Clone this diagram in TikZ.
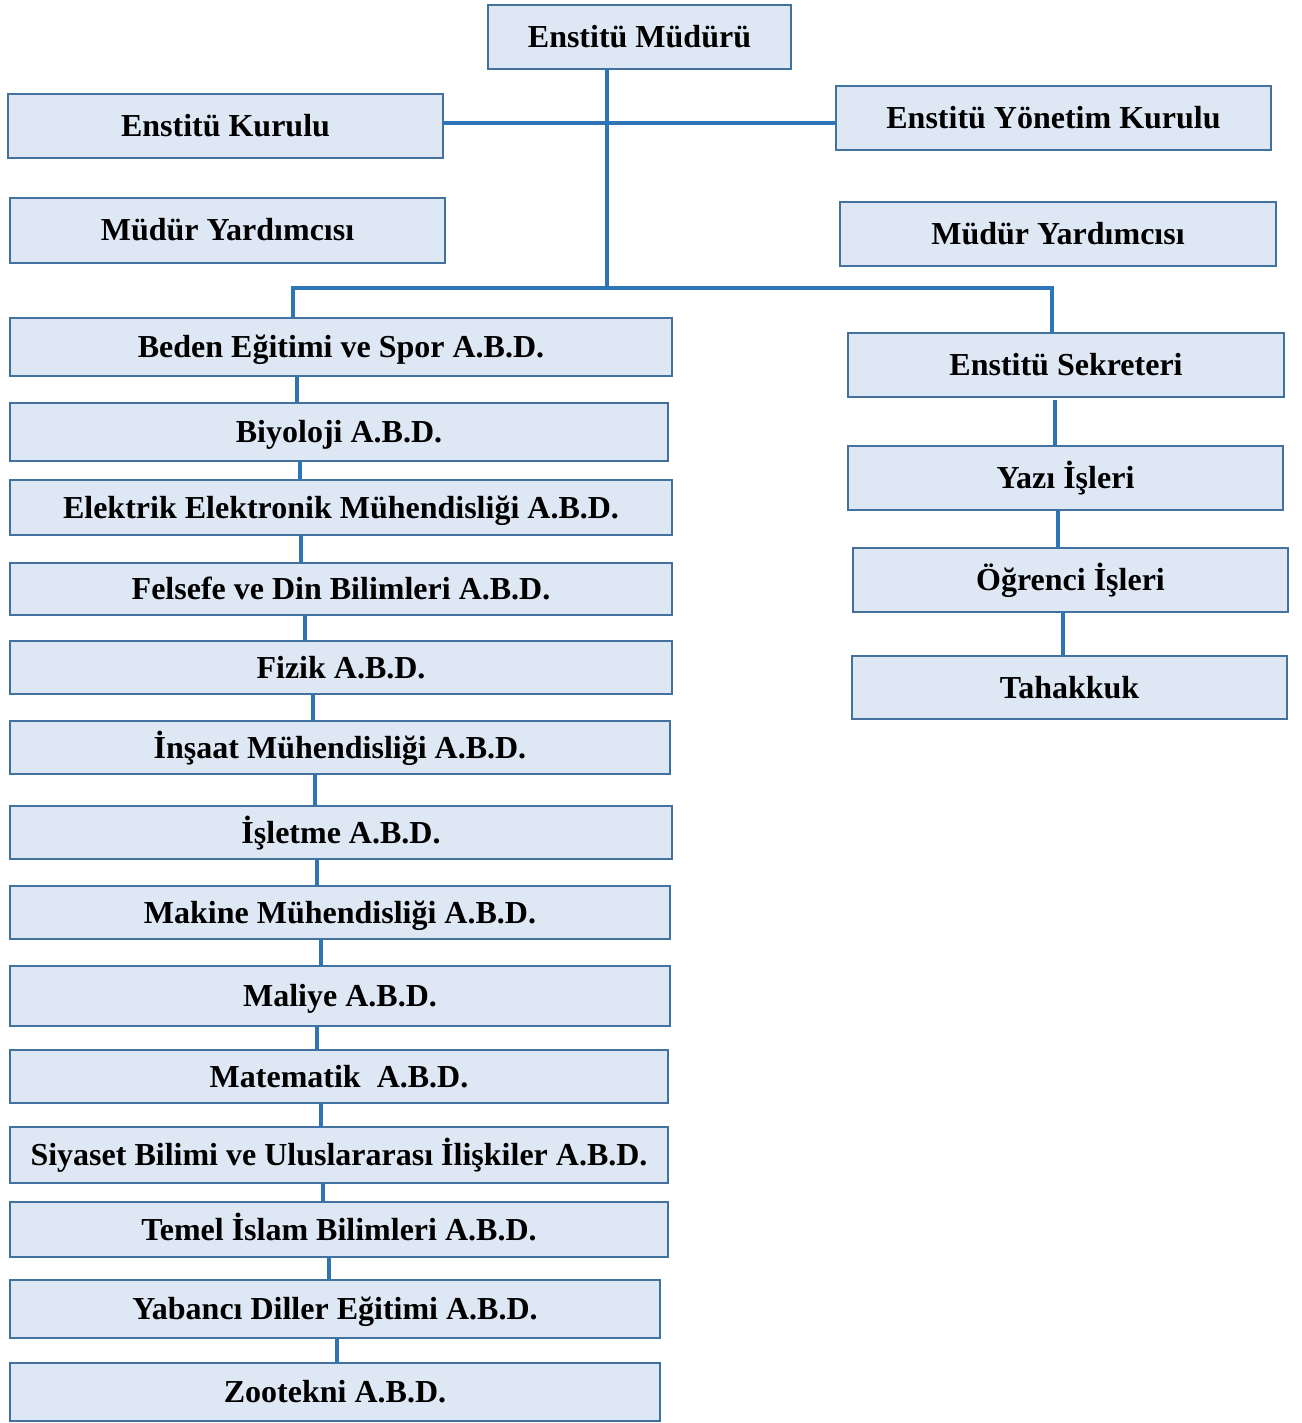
\documentclass[tikz,border=0pt]{standalone}
\usepackage{fontspec}
\setmainfont{Liberation Serif}
\definecolor{boxfill}{HTML}{DEE8F4}
\definecolor{boxline}{HTML}{41719C}
\definecolor{connc}{HTML}{2E75B6}
\begin{document}
\begin{tikzpicture}[x=1pt,y=-1pt,
  box/.style={draw=boxline, line width=2pt, fill=boxfill, inner sep=0pt, outer sep=0pt,
    font=\fontsize{32}{34}\selectfont\bfseries, text height=21pt, text depth=0pt},
  conn/.style={draw=connc, line width=4.5pt}]
\useasboundingbox (0,0) rectangle (1301,1423);
\newcommand{\bx}[6]{\node[box, minimum width={#4-#2}, minimum height={#5-#3}] (#1) at ({(#2+#4)/2},{(#3+#5)/2}) {#6};}
\bx{m}{488}{5}{791}{69}{Enstitü Müdürü}
\bx{ek}{8}{94}{443}{158}{Enstitü Kurulu}
\bx{eyk}{836}{86}{1271}{150}{Enstitü Yönetim Kurulu}
\bx{my1}{10}{198}{445}{263}{Müdür Yardımcısı}
\bx{my2}{840}{202}{1276}{266}{Müdür Yardımcısı}
\bx{b1}{10}{318}{672}{376}{Beden Eğitimi ve Spor A.B.D.}
\bx{b2}{10}{403}{668}{461}{Biyoloji A.B.D.}
\bx{b3}{10}{480}{672}{535}{Elektrik Elektronik Mühendisliği A.B.D.}
\bx{b4}{10}{563}{672}{615}{Felsefe ve Din Bilimleri A.B.D.}
\bx{b5}{10}{641}{672}{694}{Fizik A.B.D.}
\bx{b6}{10}{721}{670}{774}{İnşaat Mühendisliği A.B.D.}
\bx{b7}{10}{806}{672}{859}{İşletme A.B.D.}
\bx{b8}{10}{886}{670}{939}{Makine Mühendisliği A.B.D.}
\bx{b9}{10}{966}{670}{1026}{Maliye A.B.D.}
\bx{b10}{10}{1050}{668}{1103}{Matematik\ \ A.B.D.}
\bx{b11}{10}{1127}{668}{1183}{Siyaset Bilimi ve Uluslararası İlişkiler A.B.D.}
\bx{b12}{10}{1202}{668}{1257}{Temel İslam Bilimleri A.B.D.}
\bx{b13}{10}{1280}{660}{1338}{Yabancı Diller Eğitimi A.B.D.}
\bx{b14}{10}{1363}{660}{1421}{Zootekni A.B.D.}
\bx{sek}{848}{333}{1284}{397}{Enstitü Sekreteri}
\bx{yaz}{848}{446}{1283}{510}{Yazı İşleri}
\bx{ogr}{853}{548}{1288}{612}{Öğrenci İşleri}
\bx{tah}{852}{656}{1287}{719}{Tahakkuk}
\coordinate (j1) at (607,123);
\coordinate (bus) at (607,288);
\draw[conn] (m.south -| bus) -- (bus);
\draw[conn] (j1 -| ek.east) -- (j1 -| eyk.west);
\draw[conn] ([xshift=283pt]b1.north west) |- (bus) -| ([xshift=204pt]sek.north west);
\foreach \a/\b/\s in {b1/b2/287,b2/b3/290,b3/b4/291,b4/b5/295,b5/b6/303,b6/b7/305,b7/b8/307,b8/b9/311,b9/b10/307,b10/b11/311,b11/b12/313,b12/b13/319,b13/b14/327}
  \draw[conn] ([xshift=\s pt]\a.south west) -- ([xshift=\s pt]\b.north west);
\draw[conn] ([xshift=207pt,yshift=-3pt]sek.south west) -- ([xshift=207pt]yaz.north west);
\draw[conn] ([xshift=210pt]yaz.south west) -- ([xshift=205pt]ogr.north west);
\draw[conn] ([xshift=210pt]ogr.south west) -- ([xshift=211pt]tah.north west);
\end{tikzpicture}
\end{document}
